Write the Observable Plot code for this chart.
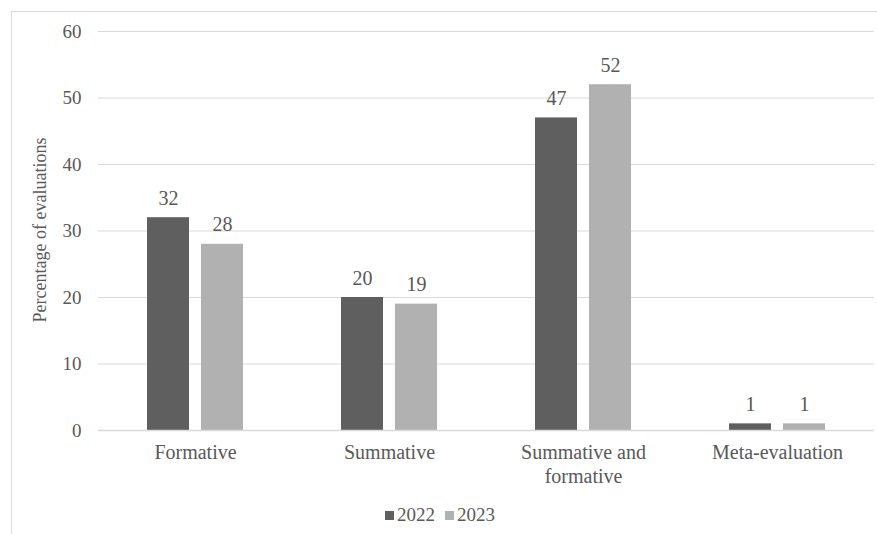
<!DOCTYPE html>
<html><head><meta charset="utf-8">
<script src="https://cdn.jsdelivr.net/npm/d3@7"></script>
<script src="https://cdn.jsdelivr.net/npm/@observablehq/plot@0.6"></script>
<style>
body{margin:0;background:#fff;font-family:'Liberation Serif','Times New Roman',serif;}
svg, svg text{font-family:'Liberation Serif','Times New Roman',serif !important;}
#frame{position:absolute;left:11px;top:11px;width:900px;height:600px;border:1px solid #d9d9d9;box-sizing:border-box;}
#wrap{position:absolute;left:0;top:0;width:877px;}
#legend{position:absolute;left:0;top:503px;width:880px;text-align:center;font-size:19px;line-height:24px;color:#595959;}
#legend span.sw{display:inline-block;width:9px;height:9px;margin-right:3px;vertical-align:1px;}
#legend span.item{margin:0 5px;}
</style></head>
<body>
<div id="frame"></div>
<div id="wrap"></div>
<div id="legend"></div>
<script>
const categories = ["Formative","Summative","Summative and formative","Meta-evaluation"];
const years = ["2022","2023"];
const values2022 = [32,20,47,1];
const values2023 = [28,19,52,1];
const yTicks = [0,10,20,30,40,50,60];
const colors = ["#5f5f5f","#b1b1b1"];

const data = [];
categories.forEach((c,i)=>{
  data.push({cat:c, year:years[0], value:values2022[i]});
  data.push({cat:c, year:years[1], value:values2023[i]});
});
const labelMap = {"Summative and formative":"Summative and\nformative"};
const txt = "#595959";
const chart = Plot.plot({
  width:877, height:490,
  marginLeft:97, marginRight:3, marginTop:31, marginBottom:60,
  style:{fontSize:"20px", color:txt, background:"transparent"},
  fx:{domain:categories, paddingInner:0, paddingOuter:0, label:null},
  x:{domain:years, paddingInner:0.218, paddingOuter:0.875, axis:null},
  y:{domain:[0,60], label:null},
  color:{domain:years, range:colors},
  marks:[
    Plot.ruleY(yTicks.filter(d=>d>0), {stroke:"#d9d9d9", strokeWidth:1}),
    Plot.axisY({ticks:yTicks, tickSize:0, tickPadding:17, fontSize:19, label:null}),
    Plot.axisFx({anchor:"bottom", tickSize:0, tickPadding:11, fontSize:20, lineHeight:1.2, lineAnchor:"top", tickFormat:d=>labelMap[d]||d, label:null}),
    Plot.barY(data, {fx:"cat", x:"year", y:"value", fill:"year"}),
    Plot.ruleY([0], {stroke:"#d9d9d9", strokeWidth:1.5}),
    Plot.text(data, {fx:"cat", x:"year", y:"value", text:d=>String(d.value), lineAnchor:"bottom", dy:-13, fontSize:20, fill:txt})
  ]
});
document.getElementById("wrap").appendChild(chart);

const svg = d3.select(chart);
svg.append("text")
  .attr("transform","translate(46,230) rotate(-90)")
  .attr("text-anchor","middle")
  .attr("font-size",18)
  .attr("fill",txt)
  .text("Percentage of evaluations");

const leg = d3.select("#legend");
years.forEach((y,i)=>{
  const it = leg.append("span").attr("class","item");
  it.append("span").attr("class","sw").style("background",colors[i]);
  it.append("span").text(y);
});
</script>
</body></html>
